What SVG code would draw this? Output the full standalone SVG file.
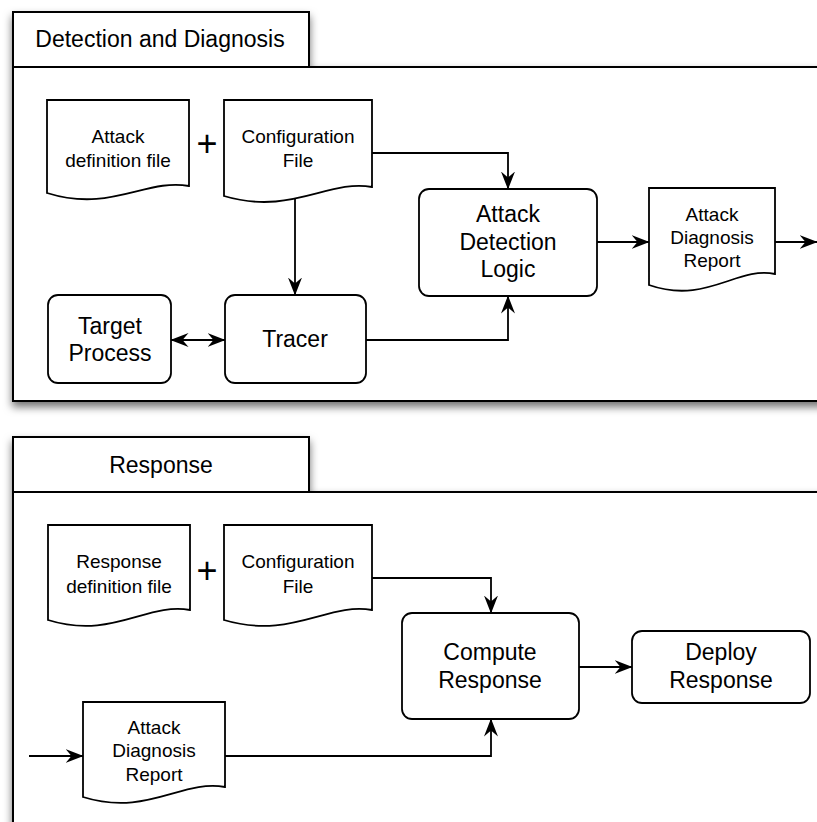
<svg xmlns="http://www.w3.org/2000/svg" width="817" height="822" viewBox="0 0 817 822">
  <defs>
    <filter id="panelShadow" x="-10%" y="-10%" width="130%" height="130%">
      <feDropShadow dx="0" dy="5" stdDeviation="4" flood-color="#000" flood-opacity="0.55"/>
    </filter>
    <marker id="arrow" viewBox="0 0 18 14" refX="17.5" refY="7" markerWidth="18" markerHeight="14" markerUnits="userSpaceOnUse" orient="auto-start-reverse">
      <path d="M0,0 L18,7 L0,14 L6,7 Z" fill="#000"/>
    </marker>
    <style>
      .panel { fill: #fff; stroke: #000; stroke-width: 2; }
      .node { fill: #fff; stroke: #000; stroke-width: 1.8; }
      .edge { fill: none; stroke: #000; stroke-width: 1.8; }
      .arrow { marker-end: url(#arrow); }
      text { font-family: "Liberation Sans", Arial, Helvetica, sans-serif; fill: #000; text-anchor: middle; }
      .title { font-size: 23px; }
      .big { font-size: 23px; }
      .small { font-size: 19px; }
      .plus { font-size: 36px; }
    </style>
  </defs>

  <!-- Detection and Diagnosis panel -->
  <g id="panel-detection" filter="url(#panelShadow)">
    <rect class="panel" x="13" y="67" width="830" height="334"/>
    <rect class="panel" x="13" y="12" width="296" height="55"/>
  </g>
  <text class="title" x="160" y="47">Detection and Diagnosis</text>

  <!-- Response panel -->
  <g id="panel-response" filter="url(#panelShadow)">
    <rect class="panel" x="13" y="492" width="830" height="350"/>
    <rect class="panel" x="13" y="437" width="296" height="55"/>
  </g>
  <text class="title" x="161" y="473">Response</text>

  <!-- connectors -->
  <g id="connectors">
    <path class="edge arrow" d="M372,153 H508 V189"/>
    <path class="edge arrow" d="M295,196 V295"/>
    <path class="edge arrow" d="M366,340 H508 V296"/>
    <path class="edge" d="M171,340 H225" marker-start="url(#arrow)" marker-end="url(#arrow)"/>
    <path class="edge arrow" d="M597,242 H649"/>
    <path class="edge arrow" d="M775,242 H817"/>
    <path class="edge arrow" d="M372,578 H491 V613"/>
    <path class="edge arrow" d="M29,756 H83"/>
    <path class="edge arrow" d="M225,756 H491 V719"/>
    <path class="edge arrow" d="M579,667 H632"/>
  </g>

  <!-- Detection and Diagnosis nodes -->
  <g id="attack-definition-file">
    <path class="node" d="M47,100 H189 V186 C146,178 111,213 47,193 Z"/>
    <text class="small" x="118" y="143">Attack</text>
    <text class="small" x="118" y="167">definition file</text>
  </g>
  <text class="plus" x="207" y="156">+</text>
  <g id="configuration-file-1">
    <path class="node" d="M224,100 H372 V187 C328,179 291,216 224,196 Z"/>
    <text class="small" x="298" y="143">Configuration</text>
    <text class="small" x="298" y="167">File</text>
  </g>
  <g id="attack-detection-logic">
    <rect class="node" x="419" y="189" width="178" height="107" rx="10"/>
    <text class="big" x="508" y="222">Attack</text>
    <text class="big" x="508" y="250">Detection</text>
    <text class="big" x="508" y="277">Logic</text>
  </g>
  <g id="attack-diagnosis-report-1">
    <path class="node" d="M649,188 H775 V274 C737,266 706,305 649,285 Z"/>
    <text class="small" x="712" y="221">Attack</text>
    <text class="small" x="712" y="244">Diagnosis</text>
    <text class="small" x="712" y="267">Report</text>
  </g>
  <g id="target-process">
    <rect class="node" x="48" y="295" width="123" height="88" rx="10"/>
    <text class="big" x="110" y="334">Target</text>
    <text class="big" x="110" y="361">Process</text>
  </g>
  <g id="tracer">
    <rect class="node" x="225" y="295" width="141" height="88" rx="10"/>
    <text class="big" x="295" y="347">Tracer</text>
  </g>

  <!-- Response nodes -->
  <g id="response-definition-file">
    <path class="node" d="M48,525 H190 V610 C147,602 112,640 48,620 Z"/>
    <text class="small" x="119" y="568">Response</text>
    <text class="small" x="119" y="593">definition file</text>
  </g>
  <text class="plus" x="207" y="583">+</text>
  <g id="configuration-file-2">
    <path class="node" d="M224,525 H372 V610 C328,602 291,640 224,620 Z"/>
    <text class="small" x="298" y="568">Configuration</text>
    <text class="small" x="298" y="593">File</text>
  </g>
  <g id="compute-response">
    <rect class="node" x="402" y="613" width="177" height="106" rx="10"/>
    <text class="big" x="490" y="660">Compute</text>
    <text class="big" x="490" y="688">Response</text>
  </g>
  <g id="deploy-response">
    <rect class="node" x="632" y="631" width="178" height="72" rx="10"/>
    <text class="big" x="721" y="660">Deploy</text>
    <text class="big" x="721" y="688">Response</text>
  </g>
  <g id="attack-diagnosis-report-2">
    <path class="node" d="M83,702 H225 V787 C182,779 147,817 83,797 Z"/>
    <text class="small" x="154" y="734">Attack</text>
    <text class="small" x="154" y="757">Diagnosis</text>
    <text class="small" x="154" y="781">Report</text>
  </g>
</svg>
